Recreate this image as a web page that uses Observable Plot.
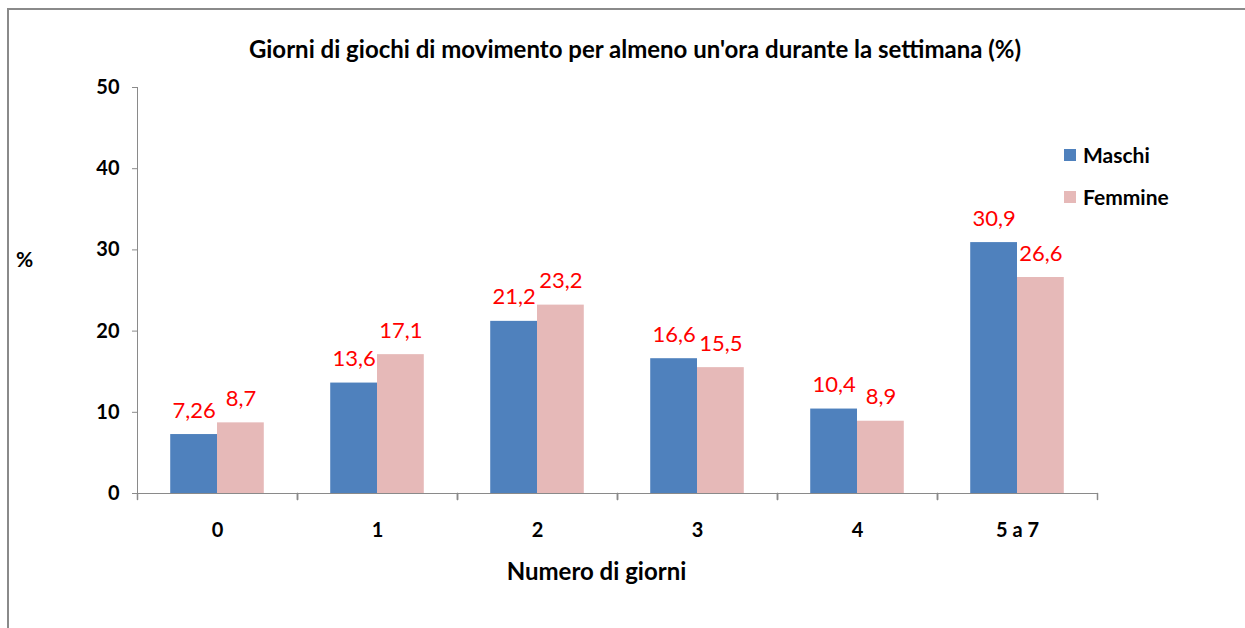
<!DOCTYPE html>
<html>
<head>
<meta charset="utf-8">
<script src="https://cdn.jsdelivr.net/npm/d3@7"></script>
<script src="https://cdn.jsdelivr.net/npm/@observablehq/plot@0.6"></script>
<style>
  html, body { margin: 0; padding: 0; background: #fff; }
  #wrap { position: relative; width: 1245px; height: 628px; overflow: hidden; font-family: Lato, "Open Sans", sans-serif; }
  #border { position: absolute; left: 7px; top: 8px; width: 1300px; height: 700px; border-left: 2px solid #8a8a8a; border-top: 2px solid #8a8a8a; }
  #chart { position: absolute; left: 0; top: 0; }
  .title { position: absolute; left: 0; width: 1270px; top: 35px; text-align: center; font-weight: bold; font-size: 24px; line-height: 1.2; color: #000; }
  .ylab { position: absolute; left: 16px; top: 246px; font-weight: bold; font-size: 21px; line-height: 1.2; }
  .xlab { position: absolute; left: 0; width: 1193px; top: 557px; text-align: center; font-weight: bold; font-size: 24px; line-height: 1.2; }
  .legend { position: absolute; left: 1064px; font-weight: bold; font-size: 21px; line-height: 25px; height: 25px; display: flex; align-items: center; }
  .legend span.sw { display: inline-block; width: 12px; height: 12px; margin-right: 7px; }
</style>
</head>
<body>
<div id="wrap">
  <div id="border"></div>
  <div id="chart"></div>
  <div class="title">Giorni di giochi di movimento per almeno un'ora durante la settimana (%)</div>
  <div class="ylab">%</div>
  <div class="xlab">Numero di giorni</div>
  <div id="legend"></div>
</div>
<script>
const categories = ["0", "1", "2", "3", "4", "5 a 7"];
const seriesNames = ["Maschi", "Femmine"];
const maschi = [7.26, 13.6, 21.2, 16.6, 10.4, 30.9];
const femmine = [8.7, 17.1, 23.2, 15.5, 8.9, 26.6];
const yTicks = [0, 10, 20, 30, 40, 50];
const colors = ["#4F81BD", "#E6B9B8"];

const data = [];
categories.forEach((c, i) => {
  data.push({cat: c, serie: seriesNames[0], v: maschi[i]});
  data.push({cat: c, serie: seriesNames[1], v: femmine[i]});
});

const fmt = v => String(v).replace(".", ",");
const lineShape = { draw(context, l) { context.moveTo(0, 0); context.lineTo(0, -l); } };

const chart = Plot.plot({
  width: 1245,
  height: 628,
  marginLeft: 137,
  marginRight: 148,
  marginTop: 87,
  marginBottom: 135,
  style: { fontFamily: "Lato, 'Open Sans', sans-serif", background: "transparent" },
  fx: { domain: categories, padding: 0, round: false, label: null },
  x: { domain: seriesNames, paddingInner: 0, paddingOuter: 0.71, round: false, axis: null },
  y: { domain: [0, 50], label: null },
  color: { domain: seriesNames, range: colors },
  marks: [
    Plot.barY(data, { fx: "cat", x: "serie", y: "v", fill: "serie" }),
    Plot.text(data, { fx: "cat", x: "serie", y: "v", text: d => fmt(d.v), fill: "#FF0000", fontSize: 22, lineAnchor: "bottom", dy: -17 }),
    Plot.frame({ anchor: "bottom", stroke: "#8a8a8a", strokeOpacity: 1 }),
    Plot.frame({ anchor: "left", fx: "0", stroke: "#8a8a8a", strokeOpacity: 1 }),
    Plot.vector([0], { frameAnchor: "bottom-left", length: 6, rotate: 180, anchor: "start", shape: lineShape, stroke: "#8a8a8a" }),
    Plot.vector([0], { frameAnchor: "bottom-right", length: 6, rotate: 180, anchor: "start", shape: lineShape, stroke: "#8a8a8a" }),
    Plot.axisY({ ticks: yTicks, tickSize: 5, tickPadding: 13, stroke: "#8a8a8a", fill: "#000", fontSize: 20, fontWeight: "bold", label: null }),
    Plot.axisFx({ anchor: "bottom", tickSize: 0, tickPadding: 29, fontSize: 20, fontWeight: "bold", fill: "#000", label: null })
  ]
});
document.getElementById("chart").appendChild(chart);

const legend = document.getElementById("legend");
seriesNames.forEach((s, i) => {
  const row = document.createElement("div");
  row.className = "legend";
  row.style.top = (142 + i * 42) + "px";
  row.innerHTML = `<span class="sw" style="background:${colors[i]}"></span>${s}`;
  legend.appendChild(row);
});
</script>
</body>
</html>
